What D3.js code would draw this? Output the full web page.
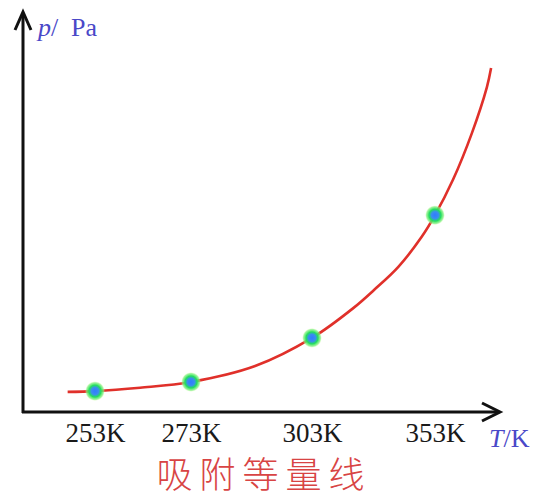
<!DOCTYPE html>
<meta charset="utf-8">
<style type="text/css">
body { margin: 0; background: #fff; }
svg { display: block; }
.axis-line { stroke: #111; stroke-width: 3; fill: none; }
.tick text { font-family: "Liberation Serif", "DejaVu Serif", serif; font-size: 27px; fill: #1a1a1a; }
.curve { fill: none; stroke: #e0302a; stroke-width: 2.6; }
.unit { font-family: "Liberation Serif", serif; font-size: 26px; fill: #4a48c8; }
.title { font-family: "Noto Sans CJK SC", sans-serif; font-size: 36px; fill: #d84444; font-weight: 300; letter-spacing: 7px; }
</style>
<svg width="537" height="497"></svg>
<script src="https://cdn.jsdelivr.net/npm/d3@7"></script>
<script>

// temperatures of the marked isotherm points (K)
var temps = [253, 273, 303, 353];
var tickLabels = ["253K", "273K", "303K", "353K"];
// pressure at each marked point (arbitrary units)
var pointP = [5.5, 7.9, 19.5, 51.8];
// samples along the curve
var curveT = [247.3, 253, 262.4, 273, 288.9, 303, 319.9, 328.2, 338.1, 347.6, 353, 360.3, 368.0, 374.1, 375.8];
var curveP = [5.3, 5.5, 6.4, 7.9, 12.1, 19.5, 27.4, 32.1, 38.2, 46.1, 51.8, 61.1, 73.4, 85.5, 90.5];

var svg = d3.select("svg"),
    width = +svg.attr("width"),
    height = +svg.attr("height");

var x0 = 23, y0 = 412;

// the temperature axis is not linear in the picture: piecewise scale
var x = d3.scaleLinear().domain(temps).range([95, 191, 312, 435]);
var y = d3.scaleLinear().domain([0, 100]).range([y0, 32]);

// glow marker
var defs = svg.append("defs");
var grad = defs.append("radialGradient").attr("id", "glow");
grad.append("stop").attr("offset", "0%").attr("stop-color", "#2f7dff");
grad.append("stop").attr("offset", "35%").attr("stop-color", "#3a8cf0");
grad.append("stop").attr("offset", "60%").attr("stop-color", "#22e05a");
grad.append("stop").attr("offset", "85%").attr("stop-color", "#7cf07a").attr("stop-opacity", 0.7);
grad.append("stop").attr("offset", "100%").attr("stop-color", "#e8ffb0").attr("stop-opacity", 0);

// axes lines with arrowheads
svg.append("path").attr("class", "axis-line")
   .attr("d", "M" + x0 + "," + (y0 + 1) + "V14 M" + (x0 - 1) + "," + y0 + "H499");
svg.append("path").attr("class", "axis-line")
   .attr("d", "M" + (x0 - 8) + ",30 L" + x0 + ",12 L" + (x0 + 8) + ",30");
svg.append("path").attr("class", "axis-line")
   .attr("d", "M482,403 L500," + y0 + " L482,421");

// tick labels
var axis = svg.append("g")
   .attr("transform", "translate(0," + y0 + ")")
   .call(d3.axisBottom(x).tickValues(temps).tickSize(0).tickPadding(11)
           .tickFormat(function(d, i){ return tickLabels[i]; }));
axis.select(".domain").remove();

// curve
var curve = d3.zip(curveT, curveP);
svg.append("path").datum(curve)
   .attr("class", "curve")
   .attr("d", d3.line()
       .x(function(d){ return x(d[0]); })
       .y(function(d){ return y(d[1]); })
       .curve(d3.curveCatmullRom));

// points
svg.selectAll(".pt").data(d3.zip(temps, pointP)).enter()
   .append("circle").attr("class", "pt")
   .attr("cx", function(d){ return x(d[0]); })
   .attr("cy", function(d){ return y(d[1]); })
   .attr("r", 10)
   .attr("fill", "url(#glow)");

// unit labels
var pl = svg.append("text").attr("class", "unit").attr("y", 36);
pl.append("tspan").attr("x", 38).attr("font-style", "italic").text("p");
pl.append("tspan").attr("x", 51).text("/");
pl.append("tspan").attr("x", 71).text("Pa");

var tl = svg.append("text").attr("class", "unit").attr("y", 447);
tl.append("tspan").attr("x", 489).attr("font-style", "italic").text("T");
tl.append("tspan").text("/K");

// title
svg.append("text").attr("class", "title")
   .attr("x", 264).attr("y", 488)
   .attr("text-anchor", "middle")
   .text("吸附等量线");

</script>
